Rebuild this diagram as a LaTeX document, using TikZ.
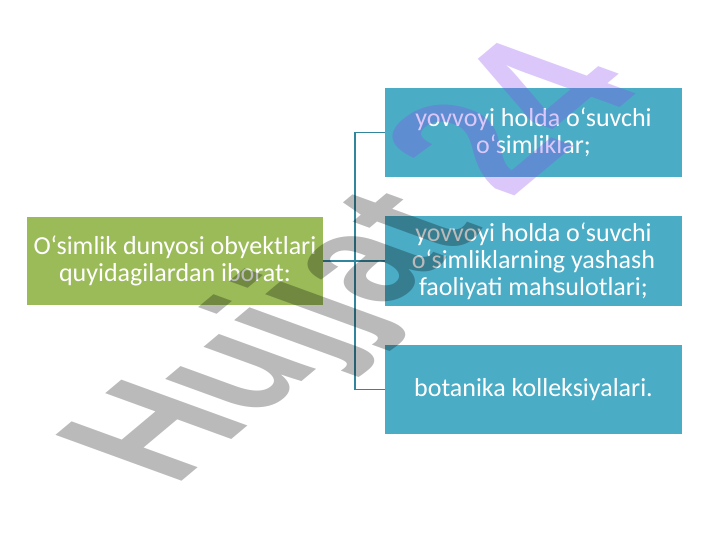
\documentclass[tikz,border=0pt]{standalone}
\usepackage{fontspec}
\setmainfont{Carlito}
\newfontfamily\wmfont{Liberation Sans}
\definecolor{oliveg}{RGB}{155,187,89}
\definecolor{aquab}{RGB}{75,172,198}
\definecolor{connc}{RGB}{49,133,156}
\definecolor{wmpurple}{RGB}{138,72,238}
\begin{document}
\begin{tikzpicture}[x=1pt,y=-1pt,
  boxbase/.style={inner sep=2pt, align=center, text=white,
    font=\fontsize{26}{27}\selectfont, minimum width=297pt, minimum height=89pt},
  greenbox/.style={boxbase, fill=oliveg},
  bluebox/.style={boxbase, fill=aquab},
  conn/.style={draw=connc, line width=1.4pt},
  wmtext/.style={transform shape, inner sep=0pt, anchor=base west,
    font=\wmfont\bfseries\fontsize{195}{195}\selectfont}]
\useasboundingbox (0,0) rectangle (720,540);
\fill[white] (0,0) rectangle (720,540);

\node[greenbox, minimum width=296pt, minimum height=88pt] (g) at (175,261)
  {O‘simlik dunyosi obyektlari\\quyidagilardan iborat:};
\node[bluebox] (b1) at (533.5,132.5) {yovvoyi holda o‘suvchi\\o‘simliklar;};
\node[bluebox] (b2) at (533.5,261) {yovvoyi holda o‘suvchi\\o‘simliklarning yashash\\faoliyati mahsulotlari;};
\node[bluebox] (b3) at (533.5,389.5) {botanika kolleksiyalari.};

\coordinate (j) at (355,261);
\draw[conn] (g.east) -- (b2.west);
\draw[conn] (b1.west) -- (b1.west -| j) -- (b3.west -| j) -- (b3.west);

\begin{scope}[shift={(174,488)}, cm={0.575,0.482,-0.940,0.342,(0,0)}]
  \node[wmtext, text=black, text opacity=0.27] (wm1) at (0,0) {Hujjat};
  \node[wmtext, text=wmpurple, text opacity=0.3,
    font=\wmfont\bfseries\fontsize{215}{215}\selectfont] (wm2) at (595,-6) {24};
\end{scope}
\end{tikzpicture}
\end{document}
